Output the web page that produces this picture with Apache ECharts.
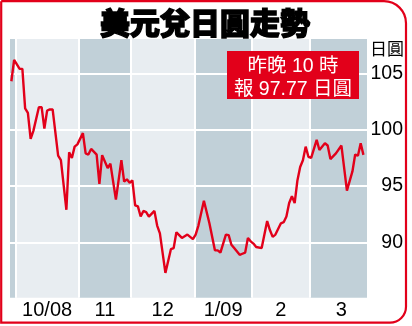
<!DOCTYPE html>
<html><head><meta charset="utf-8">
<script src="https://cdn.jsdelivr.net/npm/echarts@6/dist/echarts.min.js"></script>
<style>html,body{margin:0;padding:0;background:#fff}#c{width:412px;height:326px}</style>
</head><body><div id="c"></div>
<script>
const title = '美元兌日圓走勢';
const unitLabel = '日圓';
const noteLines = ['昨晚 10 時', '報 97.77 日圓'];
// trading-day index and USD/JPY close
const days = [0,1,2,3,4,5,6,7,8,10,11,12,13,14,15,17,18,20,21,22,23,24,26,27,28,29,31,32,33,35,36,38,40,41,42,43,44,45,46,47,48,49,50,52,53,54,56,58,59,60,62,64,66,67,68,70,72,73,74,75,76,78,79,80,81,83,84,85,86,87,88,89,91,92,93,94,95,96,98,99,100,101,102,103,104,105,106,107,108,109,111,112,114,115,116,118,120,122,124,125,126,127,128];
const values = [104.3,106.2,105.8,105.4,105.4,101.9,101.5,99.2,99.9,102.0,102.0,100.1,101.7,101.8,101.8,97.7,97.3,92.9,98.0,97.5,98.5,98.7,99.7,97.9,97.8,98.3,97.8,95.2,97.75,96.6,97.0,93.8,97.3,95.4,95.6,95.3,95.5,93.3,93.2,92.3,92.8,92.7,92.3,92.8,91.5,90.8,87.3,89.4,89.5,90.9,90.4,90.7,90.3,90.7,91.5,93.7,91.7,90.5,89.3,89.3,89.1,90.7,90.65,89.8,89.5,88.9,89.0,89.1,90.4,90.1,89.9,89.6,89.5,90.7,91.9,91.1,90.5,90.7,91.7,91.8,92.3,93.5,94.1,93.5,95.5,96.7,97.3,98.5,97.6,97.5,99.1,98.2,98.8,98.6,97.4,97.9,98.6,94.6,96.3,97.8,97.7,98.8,97.77];
const monthBounds = [-0.5, 1.5, 24.5, 43.5, 66.5, 87.5, 108.5, 129.3];
const monthLabels = ['10/08','11','12','1/09','2','3'];
const monthLabelPos = [13, 34, 55, 77, 98, 120];
const yTicks = [90, 95, 100, 105];

const DARK = '#c1d0d8', LIGHT = '#e8edf1', RED = '#e2001a';
const bands = [];
for (let i = 0; i < monthBounds.length - 1; i++) {
  bands.push([{xAxis: monthBounds[i], itemStyle: {color: i % 2 === 0 ? DARK : LIGHT}}, {xAxis: monthBounds[i + 1]}]);
}
const gridLines = monthBounds.slice(1, -1).map(v => ({xAxis: v})).concat(yTicks.map(v => ({yAxis: v})));
const lineData = days.map((d, i) => [d, values[i]]);
const FONT = '"Liberation Sans", Arial, "Noto Sans CJK TC", sans-serif';

const chart = echarts.init(document.getElementById('c'), null, {renderer: 'canvas'});
chart.setOption({
  animation: false,
  backgroundColor: '#fff',
  grid: {left: 10, top: 39, right: 45, bottom: 28.3},
  xAxis: {
    type: 'value', min: monthBounds[0], max: monthBounds[monthBounds.length - 1],
    axisLine: {show: false}, axisTick: {show: false}, splitLine: {show: false},
    axisLabel: {
      customValues: monthLabelPos, margin: 3,
      formatter: v => monthLabels[monthLabelPos.indexOf(v)],
      color: '#000', fontSize: 20, fontFamily: FONT
    }
  },
  yAxis: {
    type: 'value', position: 'right', min: 85.1, max: 108.05,
    axisLine: {show: false}, axisTick: {show: false}, splitLine: {show: false},
    axisLabel: {customValues: yTicks, align: 'right', margin: 36, color: '#000', fontSize: 19.5, fontFamily: FONT}
  },
  series: [
    {
      type: 'line', data: [], silent: true,
      markArea: {silent: true, z: 1, data: bands, label: {show: false}}
    },
    {
      type: 'line', data: [], silent: true,
      markLine: {silent: true, z: 2, symbol: 'none', label: {show: false},
        lineStyle: {color: '#fff', width: 2, type: 'solid'}, data: gridLines}
    },
    {
      type: 'line', z: 10, data: lineData, showSymbol: false, symbol: 'none',
      lineStyle: {color: RED, width: 2.4}, silent: true
    }
  ],
  graphic: [
    {type: 'text', z: 20,
      style: {text: title, x: 205, y: 22.5, align: 'center', verticalAlign: 'middle',
        font: '900 30px "Noto Sans CJK TC", sans-serif', fill: '#000', stroke: '#000', lineWidth: 1.4}},
    {type: 'text', z: 20,
      style: {text: unitLabel, x: 404, y: 48.5, align: 'right', verticalAlign: 'middle',
        font: '17px "Noto Sans CJK TC", sans-serif', fill: '#000'}},
    {type: 'rect', z: 20, shape: {x: 227, y: 51, width: 132, height: 48}, style: {fill: RED}},
    {type: 'text', z: 21,
      style: {text: noteLines.join('\n'), x: 293, y: 78, align: 'center', verticalAlign: 'middle',
        lineHeight: 22.6, font: '19.5px ' + FONT, fill: '#fff'}},
    {type: 'rect', z: 30, shape: {x: 1.2, y: 1.2, width: 404.8, height: 321.5, r: [0, 22, 16, 0]},
      style: {fill: 'none', stroke: RED, lineWidth: 2.2}}
  ]
});
</script>
</body></html>
